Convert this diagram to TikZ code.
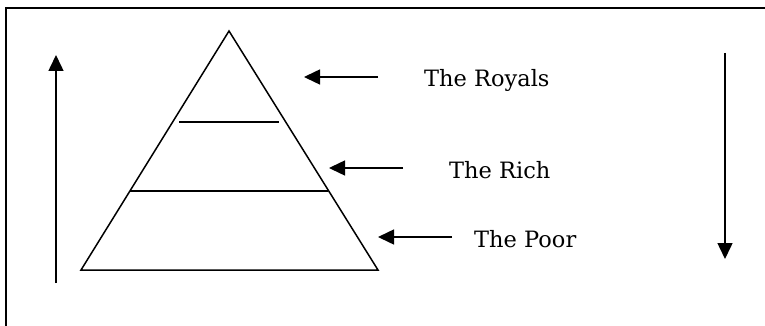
\documentclass[tikz,border=0pt]{standalone}
\usepackage{fontspec}
\setmainfont{DejaVu Serif}
\usetikzlibrary{arrows.meta,positioning}

\begin{document}
\begin{tikzpicture}[x=1pt, y=-1pt,
  arr/.style={-{Triangle[length=16pt,width=15pt]}, line width=1.5pt},
  lbl/.style={font=\fontsize{22.5}{27}\selectfont, anchor=base west, inner sep=0pt}]
  \useasboundingbox (0,0) rectangle (765,326);

  %% Frame (top and left sides only)
  \draw[line width=2pt] (6,326) -- (6,8) -- (765,8);

  %% Pyramid
  \coordinate (apex) at (229,31);
  \coordinate (bl)   at (81,270);
  \coordinate (br)   at (378,270);
  \draw[line width=1.5pt, line join=miter] (apex) -- (br) -- (bl) -- cycle;
  \coordinate (topL) at (179,122);
  \coordinate (topR) at (279,122);
  \coordinate (midL) at (130,191);
  \coordinate (midR) at (328,191);
  \draw[line width=1.5pt] (topL) -- (topR);
  \draw[line width=1.5pt] (midL) -- (midR);

  %% Labels
  \node[lbl] (royals) at (424,87)  {The Royals};
  \node[lbl] (rich)   at (449,178) {The Rich};
  \node[lbl] (poor)   at (474,247) {The Poor};

  %% Pointers
  \coordinate (royalsTail) at (378,77);
  \coordinate (royalsTip)  at (304,77);
  \coordinate (richTail)   at (403,168);
  \coordinate (richTip)    at (329,168);
  \coordinate (poorTail)   at (452,237);
  \coordinate (poorTip)    at (378,237);
  \draw[arr] (royalsTail) -- (royalsTip);
  \draw[arr] (richTail) -- (richTip);
  \draw[arr] (poorTail) -- (poorTip);

  %% Side arrows
  \coordinate (upFrom) at (56,283);
  \coordinate (upTo)   at (56,55);
  \coordinate (downFrom) at (725,53);
  \coordinate (downTo)   at (725,259);
  \draw[arr] (upFrom) -- (upTo);
  \draw[arr] (downFrom) -- (downTo);
\end{tikzpicture}
\end{document}
